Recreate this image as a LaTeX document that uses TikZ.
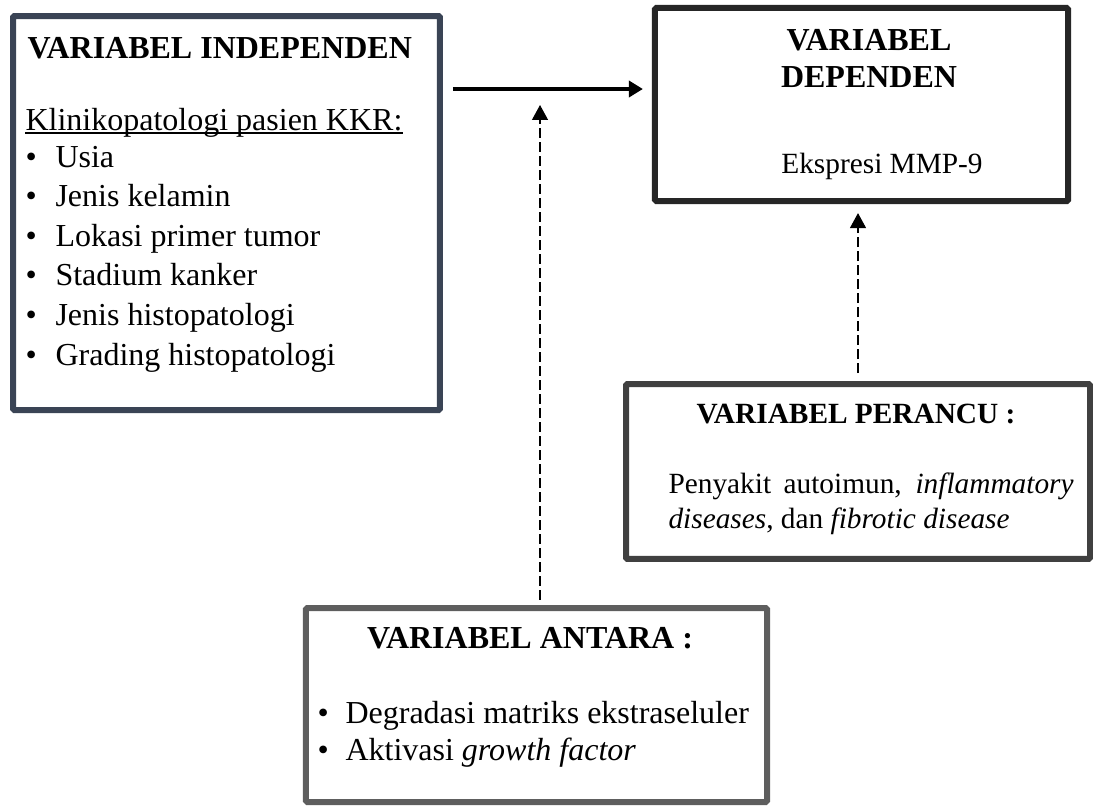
\documentclass[tikz,border=0pt]{standalone}
\usepackage{fontspec}
\setmainfont{Liberation Serif}
\usetikzlibrary{arrows.meta}
\definecolor{indline}{HTML}{3A4455}
\definecolor{depline}{HTML}{262626}
\definecolor{perline}{HTML}{404040}
\definecolor{antline}{HTML}{5E5E5E}

\begin{document}
\fontsize{12}{14}\selectfont
\begin{tikzpicture}[x=0.375pt,y=-0.375pt,
    box/.style={draw,rectangle,line width=2.25pt,rounded corners=0.5pt,inner sep=0},
    txt/.style={inner sep=0,anchor=base west},
    ctxt/.style={inner sep=0,anchor=base},
    small/.style={font=\fontsize{11}{13}\selectfont},
    dasharrow/.style={line width=0.4pt,dash pattern=on 3.75pt off 1.5pt,-{Triangle[length=5.6pt,width=6pt]}}]
      \useasboundingbox(0,0)rectangle(1093,805);
      % the four boxes
      \node[box,indline,minimum width=160.1pt,minimum height=147.75pt](ind)at(226.5,213){};
      \node[box,depline,minimum width=154.9pt,minimum height=72.4pt](dep)at(861.5,104.5){};
      \node[box,perline,minimum width=174pt,minimum height=65.6pt](per)at(858,471.5){};
      \node[box,antline,minimum width=172.9pt,minimum height=72.75pt](ant)at(536.5,705){};
      % arrows
      \coordinate(arr)at(0,89);\coordinate(hit)at(540,105);
      \draw[line width=1.5pt,-{Triangle[length=5.25pt,width=6pt]},shorten <=3.75pt,shorten >=3.4pt](ind.east|-arr)--(dep.west|-arr);
      \draw[dasharrow,shorten <=2pt](ant.north-|hit)--(hit);
      \draw[dasharrow,shorten <=3pt,shorten >=3.4pt](per.north)--(dep.south-|per.north);
      % independen
      \node[txt,font=\fontsize{12}{14}\selectfont\bfseries](indt)at(27,58){VARIABEL INDEPENDEN};
      \node[txt](klin)at(25,130){Klinikopatologi pasien KKR:};
      \draw[line width=0.45pt]([yshift=-1.1pt]klin.base west)--([yshift=-1.1pt]klin.base east);
      \foreach \t[count=\i from 0]in{Usia,Jenis kelamin,Lokasi primer tumor,Stadium kanker,Jenis histopatologi,Grading histopatologi}{
        \node[txt](bi\i)at(25,{167+39.6*\i}){\textbullet};
        \node[txt](li\i)at(55,{167+39.6*\i}){\t};
      }
      % dependen
      \node[ctxt,font=\fontsize{12}{14}\selectfont\bfseries](dept1)at(869,50){VARIABEL};
      \node[ctxt,font=\fontsize{12}{14}\selectfont\bfseries](dept2)at(869,87){DEPENDEN};
      \node[ctxt,small](depv)at(882,173){Ekspresi MMP-9};
      % perancu
      \node[ctxt,font=\fontsize{11}{13}\selectfont\bfseries](pert)at(856,423){VARIABEL PERANCU :};
      \node[txt,small](per1)at(668,493){\makebox[151.9pt][s]{Penyakit autoimun, \textit{inflammatory}}};
      \node[txt,small](per2)at(668,528){\textit{diseases}, dan \textit{fibrotic disease}};
      % antara
      \node[ctxt,font=\fontsize{12}{14}\selectfont\bfseries](antt)at(530,648){VARIABEL ANTARA :};
      \foreach \t[count=\i from 0]in{Degradasi matriks ekstraseluler,Aktivasi \textit{growth factor}}{
        \node[txt](ba\i)at(317,{723+37*\i}){\textbullet};
        \node[txt](la\i)at(345,{723+37*\i}){\t};
      }
    \end{tikzpicture}
\end{document}
